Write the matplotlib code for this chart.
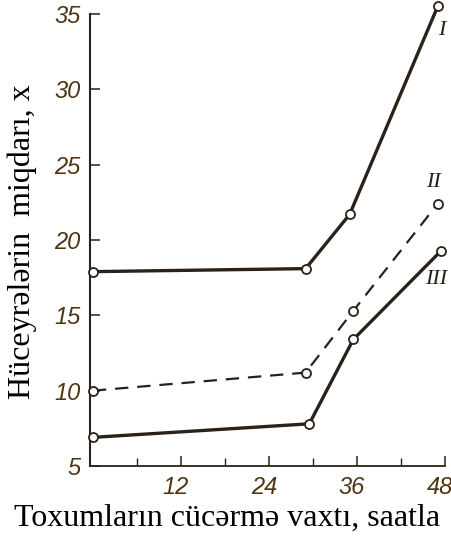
import matplotlib
matplotlib.use('Agg')
import matplotlib.pyplot as plt
from matplotlib.transforms import ScaledTranslation

# Dəyərlər şəkildən oxunub
saat_I = [0, 29, 35, 47]
say_I = [17.9, 18.1, 21.7, 35.5]
saat_II = [0, 29, 35.5, 47]
say_II = [10.0, 11.2, 15.3, 22.4]
saat_III = [0, 29.5, 35.5, 47.5]
say_III = [6.9, 7.8, 13.4, 19.3]

x_major = [12, 24, 36, 48]
x_minor = [6, 18, 30, 42]
y_ticks = [5, 10, 15, 20, 25, 30, 35]

xett = '#2b2118'
reqem = '#4f3414'

fig = plt.figure(figsize=(4.52, 5.42), dpi=100)
ax = fig.add_axes([90 / 452, 76 / 542, 355 / 452, 452 / 542])

mk = dict(marker='o', markersize=6.5, markerfacecolor='white',
          markeredgecolor=xett, markeredgewidth=1.3, color=xett, clip_on=False, zorder=3)
ax.plot(saat_I, say_I, lw=2.4, **mk)
ax.plot(saat_II, say_II, lw=1.6, linestyle=(0, (6, 4)), **mk)
ax.plot(saat_III, say_III, lw=2.4, **mk)

# Roma rəqəmləri
rf = dict(family='Liberation Serif', style='italic', fontsize=16, color=xett,
          ha='center', va='center', clip_on=False)
ax.text(47.6, 33.9, 'I', **rf)
ax.text(46.4, 23.8, 'II', **rf)
ax.text(46.8, 17.4, 'III', **rf)

ax.set_xlim(-0.4, 48)
ax.set_ylim(5, 35)
ax.spines['top'].set_visible(False)
ax.spines['right'].set_visible(False)
ax.spines['left'].set_color(xett)
ax.spines['bottom'].set_color(xett)
ax.spines['left'].set_linewidth(1.5)
ax.spines['bottom'].set_linewidth(1.3)

ax.set_xticks(x_major)
ax.set_xticks(x_minor, minor=True)
ax.set_yticks(y_ticks)
ax.set_xticklabels([str(v) for v in x_major])
ax.set_yticklabels([str(v) for v in y_ticks])
ax.tick_params(axis='both', which='major', direction='in', length=7.5, width=1.1,
               color=xett, labelcolor=reqem, pad=7)
ax.tick_params(axis='x', which='minor', direction='in', length=6, width=1.0, color=xett)
sol = ScaledTranslation(-5 / 100, 0, fig.dpi_scale_trans)
for lab in ax.get_xticklabels() + ax.get_yticklabels():
    lab.set_family(['Liberation Sans Narrow', 'Liberation Sans'])
    lab.set_style('italic')
    lab.set_fontsize(17)
for lab in ax.get_xticklabels():
    lab.set_transform(lab.get_transform() + sol)

fig.text(0.502, 0.044, 'Toxumların cücərmə vaxtı, saatla', family='Liberation Serif',
         fontsize=23, ha='center', va='center', color='black')
fig.text(0.049, 0.555, 'Hüceyrələrin  miqdarı, x', family='Liberation Serif',
         fontsize=23, ha='center', va='center', rotation=90, color='black')

fig.savefig('out.png', dpi=100)
